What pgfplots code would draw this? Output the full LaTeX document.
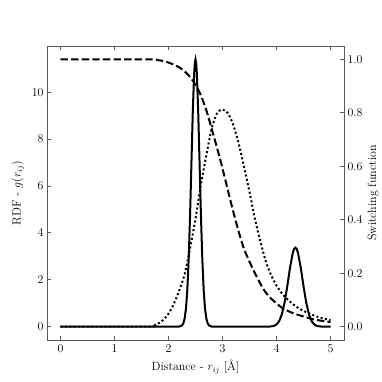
\documentclass[border=0pt]{standalone}
\usepackage{pgfplots}
\pgfplotsset{compat=1.18}
\usetikzlibrary{calc}

\definecolor{framegray}{RGB}{90,90,90}

\pgfplotsset{
  rdfbase/.style={
    scale only axis,
    width=297bp, height=294bp,
    xmin=-0.25, xmax=5.25,
    font=\fontsize{12}{14}\selectfont,
    axis line style={framegray, line width=0.8bp},
    tick style={framegray, line width=0.8bp},
    major tick length=3.6bp,
    tick align=inside,
    xtick={0,1,2,3,4,5},
    minor tick num=0,
  },
}

\begin{document}
\begin{tikzpicture}
\begin{axis}[
  rdfbase,
  name=main,
  ymin=-0.57, ymax=11.97,
  ytick={0,2,4,6,8,10},
  ytick pos=left,
  xtick pos=both,
  xlabel={Distance - $r_{ij}$ [\AA]},
  ylabel={RDF - $g(r_{ij})$},
  xlabel style={at={(axis description cs:0.5,-0.092)}, anchor=center},
  ylabel style={at={(axis description cs:-0.098,0.5)}, anchor=center},
  xticklabel style={yshift=-1bp},
]
  % RDF g(r)
  \addplot[black, line width=2bp] coordinates {
    (0,0) (1.0,0) (2.1,0) (2.2,0.005) (2.25,0.051) (2.275,0.142) (2.3,0.357)
    (2.325,0.80) (2.35,1.63) (2.375,2.95) (2.4,4.80) (2.425,7.00) (2.45,9.18)
    (2.475,10.80) (2.4875,11.25) (2.5,11.40) (2.5125,11.25) (2.525,10.80) (2.55,9.18) (2.575,7.00) (2.6,4.80)
    (2.625,2.95) (2.65,1.63) (2.675,0.80) (2.7,0.357) (2.725,0.142) (2.75,0.051)
    (2.8,0.005) (2.9,0) (3.8,0) (3.85,0.002) (3.9,0.008) (3.95,0.030) (4.0,0.090)
    (4.05,0.235) (4.1,0.53) (4.15,1.03) (4.2,1.73) (4.25,2.51) (4.3,3.13)
    (4.325,3.31) (4.35,3.37) (4.375,3.31) (4.4,3.13) (4.45,2.51) (4.5,1.73)
    (4.55,1.03) (4.6,0.53)
    (4.65,0.235) (4.7,0.090) (4.75,0.030) (4.8,0.008) (4.85,0.002) (4.9,0) (5.0,0)
  };
  % dotted curve
  \addplot[black, line width=2bp, dash pattern=on 2bp off 2.4bp, smooth] coordinates {
    (0,0) (1.6,0) (1.7,0.03) (1.8,0.12) (1.9,0.28) (2.0,0.55) (2.1,0.98)
    (2.2,1.55) (2.3,2.25) (2.4,3.35) (2.5,4.6) (2.6,6.05) (2.7,7.3) (2.8,8.45)
    (2.9,9.1) (3.0,9.26) (3.1,9.1) (3.2,8.6) (3.3,7.8) (3.4,6.8) (3.5,5.75)
    (3.6,4.6) (3.7,3.65) (3.8,2.8) (3.9,2.2) (4.0,1.75) (4.1,1.42) (4.2,1.17)
    (4.3,0.97) (4.4,0.80) (4.5,0.67) (4.6,0.57) (4.7,0.47) (4.8,0.39)
    (4.9,0.33) (5.0,0.27)
  };
\end{axis}

\begin{axis}[
  rdfbase,
  at={(main.south west)}, anchor=south west,
  ymin=-0.05, ymax=1.05,
  axis x line=none,
  axis y line*=right,
  ytick={0,0.2,0.4,0.6,0.8,1.0},
  yticklabel style={/pgf/number format/fixed, /pgf/number format/precision=1,
    /pgf/number format/fixed zerofill},
  ylabel={Switching function},
  ylabel style={at={(axis description cs:1.098,0.5)}, anchor=center},
]
  % switching function
  \addplot[black, line width=2bp, dash pattern=on 7.4bp off 3.2bp, smooth] coordinates {
    (0,1.0) (1.6,1.0) (1.8,0.997) (1.9,0.994) (2.0,0.988) (2.1,0.980) (2.2,0.970)
    (2.3,0.955) (2.4,0.934) (2.5,0.905) (2.6,0.865) (2.7,0.81) (2.8,0.74)
    (2.9,0.668) (3.0,0.592) (3.1,0.51) (3.2,0.43) (3.3,0.355) (3.4,0.29)
    (3.5,0.243) (3.6,0.200) (3.7,0.161) (3.8,0.128) (3.9,0.105) (4.0,0.087)
    (4.1,0.071) (4.2,0.060) (4.3,0.051) (4.4,0.044) (4.5,0.038) (4.6,0.032)
    (4.7,0.027) (4.8,0.023) (4.9,0.020) (5.0,0.017)
  };
\end{axis}

\path ($(main.south west)+(-47bp,-42bp)$) rectangle ($(main.north east)+(38bp,46bp)$);
\end{tikzpicture}
\end{document}
